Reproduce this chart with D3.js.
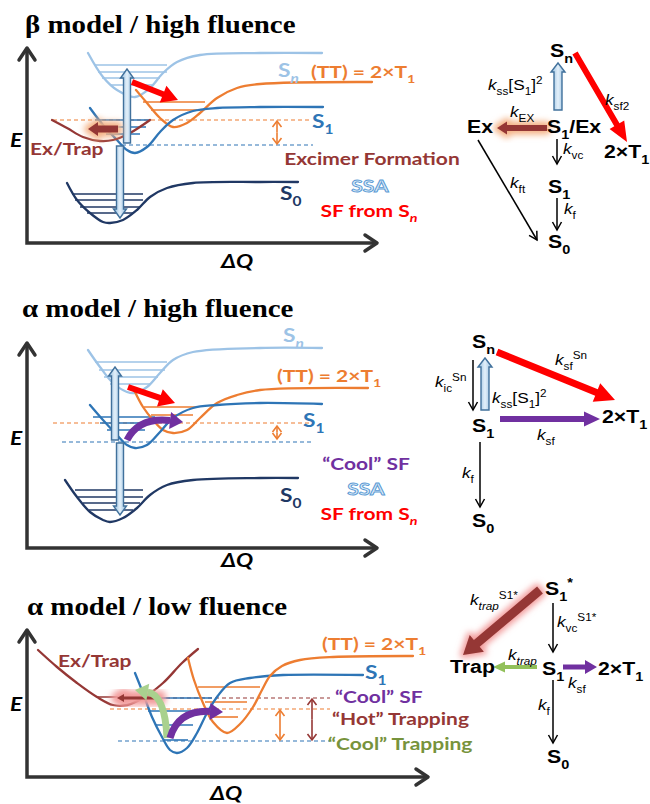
<!DOCTYPE html>
<html>
<head>
<meta charset="utf-8">
<script src="https://cdn.jsdelivr.net/npm/d3@7"></script>
<style>
  body { margin: 0; background: #fff; }
  svg { display: block; }
</style>
</head>
<body>
<script>
// ---------- data: curves are [ΔQ, E], levels are [E, ΔQ from, ΔQ to] ----------
var titles = ['β model / high fluence', 'α model / high fluence', 'α model / low fluence'];

// β model / high fluence
var bSn = [[61,192],[76,168],[90,155],[108,148],[123,157],[136,172],[150,183],[173,190],[233,192],[295,192]];
var bTT = [[109,155],[120,142],[133,127],[146,118],[160,122],[173,132],[190,147],[210,157],[233,161],[345,163]];
var bS1 = [[63,137],[76,120],[90,105],[100,95],[108,92],[120,98],[133,113],[146,125],[166,134],[190,137],[233,138],[296,138]];
var bS0 = [[40,62],[50,45],[63,32],[76,23],[83,22],[96,25],[110,35],[123,48],[140,57],[166,62],[233,63],[271,63]];
var bEx = [[25,125],[40,117],[56,108],[73,104],[86,105],[103,112],[123,125]];
var bSnLv = [[180,68,140],[173,71,140],[167,75,133],[160,83,126]];
var bTTLv = [[143,116,178],[135,124,170]];
var bS1Lv = [[125,68,123],[118,73,119],[111,79,113]];
var bS0Lv = [[51,45,116],[45,48,116],[38,53,113],[32,60,106]];
var bDash = [[125,26,285,'tt'],[100,95,286,'s1']];
var bGap = [[250,100,125,'tt']];
var bSSA = [[100,102,176],[93,99,27]];        // [ΔQ, E tail, E tip]
var bSF = [[105,163],[151,145]];
var bExArrow = [[91,116],[61,116]];

// α model / high fluence
var aSn = [[61,198],[73,181],[86,165],[100,156],[108,155],[120,161],[133,175],[146,188],[166,196],[233,200],[295,200]];
var aTT = [[108,156],[116,141],[126,128],[136,118],[146,115],[160,118],[173,130],[190,145],[210,153],[233,158],[341,160]];
var aS1 = [[63,143],[76,128],[90,113],[100,103],[108,100],[120,103],[133,116],[146,130],[166,140],[190,143],[233,145],[295,144]];
var aS0 = [[38,68],[50,51],[63,36],[76,28],[83,26],[96,30],[110,40],[123,53],[140,63],[166,68],[233,70],[271,70]];
var aSnLv = [[186,68,140],[178,72,138],[171,77,131],[164,83,123]];
var aTTLv = [[141,117,170],[133,124,166]];
var aS1Lv = [[131,66,128],[125,73,123],[118,80,118]];
var aS0Lv = [[58,48,116],[51,51,116],[45,56,113],[38,62,106]];
var aDash = [[125,26,285,'tt'],[106,35,286,'s1']];
var aGap = [[250,108,123,'tt']];
var aSSA = [[88,108,181],[93,105,33]];
var aSF = [[101,161],[148,145]];
var aCoolSF = [[100,108],[112,131],[156,126]];  // tail, bend, tip

// α model / low fluence
var lEx = [[11,127],[30,110],[50,94],[70,80],[86,72],[100,72],[116,79],[136,94],[155,114],[171,128]];
var lS1 = [[108,104],[116,84],[125,60],[135,40],[143,27],[150,24],[160,29],[170,44],[180,64],[190,80],[203,94],[223,99],[256,102],[336,102]];
var lTT = [[161,119],[167,97],[176,74],[186,55],[200,44],[213,53],[226,70],[235,87],[243,101],[255,111],[273,117],[306,120],[386,121]];
var lExLv = [[80,70,113]];
var lS1Lv = [[79,118,185],[66,121,173],[52,128,166],[37,136,161]];
var lTTLv = [[90,171,233],[75,178,220],[60,185,211]];
var lDash = [[79,118,303,'ex'],[68,83,303,'tt'],[36,91,303,'s1']];
var lGap = [[253,36,68,'tt'],[285,36,79,'ex']];
var lCoolTrap = [[140,39],[138,82],[108,87]];
var lCoolSF = [[143,39],[151,67],[196,65]];
var lTrapArrow = [[133,79],[90,79]];

// ---------- styles ----------
var C = {sn: '#9dc3e6', s1: '#2e75b6', s0: '#203864', tt: '#ed7d31', ex: '#953735',
         red: '#ff0000', purple: '#7030a0', green: '#a9d18e', greenText: '#77933c', axis: '#333333'};
var LATO = "Lato, 'Open Sans', sans-serif";
var ARIAL = "'Liberation Sans', Arial, sans-serif";
var SERIF = "'Liberation Serif', 'Times New Roman', serif";
var SX = 1.2; // the original picture is stretched sideways, so is the text

var svg = d3.select('body').append('svg').attr('width', 650).attr('height', 804);
var defs = svg.append('defs');
defs.append('filter').attr('id', 'blur').attr('x', '-60%').attr('y', '-60%').attr('width', '220%').attr('height', '220%')
  .append('feGaussianBlur').attr('stdDeviation', 3);
var grad = defs.append('linearGradient').attr('id', 'ssaFill').attr('x1', 0).attr('y1', 0).attr('x2', 1).attr('y2', 0);
grad.append('stop').attr('offset', '0%').attr('stop-color', '#8fb9dc');
grad.append('stop').attr('offset', '50%').attr('stop-color', '#e3f0fa');
grad.append('stop').attr('offset', '100%').attr('stop-color', '#8fb9dc');

// text with sub / superscripts; parts are strings or {t, sub, sup, it}
function rich(g, px, py, parts, o) {
  var size = o.size;
  var t = g.append('text')
    .attr('transform', 'translate(' + px + ',' + py + ') scale(' + (o.sx || SX) + ',1)')
    .attr('font-family', o.font || LATO)
    .attr('font-size', size)
    .attr('font-weight', o.weight || 'bold')
    .attr('font-style', o.style || 'normal')
    .attr('fill', o.color || '#000')
    .attr('text-anchor', o.anchor || 'start');
  if (o.stroke) t.attr('stroke', o.stroke).attr('stroke-width', o.strokeWidth || 1);
  var cur = 0;
  parts.forEach(function(p) {
    if (typeof p === 'string') p = {t: p};
    var off = p.sub ? size * 0.3 : (p.sup ? -size * 0.42 : 0);
    var ts = t.append('tspan').attr('dy', off - cur).text(p.t);
    cur = off;
    if (p.sub || p.sup) ts.attr('font-size', size * 0.68);
    if (p.it) ts.attr('font-style', 'italic');
  });
  return t;
}

function unit(x1, y1, x2, y2) {
  var dx = x2 - x1, dy = y2 - y1, l = Math.sqrt(dx * dx + dy * dy);
  return [dx / l, dy / l];
}

// block arrow outline from tail to tip
function blockPath(x1, y1, x2, y2, sw, hw, hl) {
  var u = unit(x1, y1, x2, y2), n = [-u[1], u[0]];
  var bx = x2 - u[0] * hl, by = y2 - u[1] * hl;
  var p = [
    [x1 + n[0] * sw / 2, y1 + n[1] * sw / 2],
    [bx + n[0] * sw / 2, by + n[1] * sw / 2],
    [bx + n[0] * hw / 2, by + n[1] * hw / 2],
    [x2, y2],
    [bx - n[0] * hw / 2, by - n[1] * hw / 2],
    [bx - n[0] * sw / 2, by - n[1] * sw / 2],
    [x1 - n[0] * sw / 2, y1 - n[1] * sw / 2]
  ];
  return 'M' + p.map(function(d) { return d[0].toFixed(1) + ',' + d[1].toFixed(1); }).join('L') + 'Z';
}

function blockArrow(g, x1, y1, x2, y2, o) {
  var d = blockPath(x1, y1, x2, y2, o.sw, o.hw, o.hl);
  if (o.glow) {
    g.append('path').attr('d', d).attr('fill', o.glow).attr('stroke', o.glow)
      .attr('stroke-width', o.glowW || 7).attr('stroke-linejoin', 'round').attr('filter', 'url(#blur)');
  }
  g.append('path').attr('d', d).attr('fill', o.fill)
    .attr('stroke', o.stroke || 'none').attr('stroke-width', o.strokeW || 1.3).attr('stroke-linejoin', 'miter');
}

// thin arrow with open head
function lineArrow(g, x1, y1, x2, y2, color, w, hl, hw) {
  var u = unit(x1, y1, x2, y2), n = [-u[1], u[0]];
  var bx = x2 - u[0] * hl, by = y2 - u[1] * hl;
  g.append('line').attr('x1', x1).attr('y1', y1).attr('x2', x2).attr('y2', y2)
    .attr('stroke', color).attr('stroke-width', w);
  g.append('path')
    .attr('d', 'M' + (bx + n[0] * hw / 2) + ',' + (by + n[1] * hw / 2) + 'L' + x2 + ',' + y2 + 'L' + (bx - n[0] * hw / 2) + ',' + (by - n[1] * hw / 2))
    .attr('fill', 'none').attr('stroke', color).attr('stroke-width', w).attr('stroke-linejoin', 'miter');
}

// thick bent arrow: tail, bend, tip
function bentArrow(g, s, pts, color) {
  var p0 = [s.x(pts[0][0]), s.y(pts[0][1])], c = [s.x(pts[1][0]), s.y(pts[1][1])], t = [s.x(pts[2][0]), s.y(pts[2][1])];
  var u = unit(c[0], c[1], t[0], t[1]), n = [-u[1], u[0]], hl = 13, hw = 17;
  var b = [t[0] - u[0] * hl, t[1] - u[1] * hl];
  g.append('path').attr('d', 'M' + p0 + 'Q' + c + ' ' + b).attr('fill', 'none')
    .attr('stroke', color).attr('stroke-width', 7);
  g.append('path').attr('d', 'M' + [b[0] + n[0] * hw / 2, b[1] + n[1] * hw / 2] + 'L' + t + 'L' + [b[0] - n[0] * hw / 2, b[1] - n[1] * hw / 2] + 'Z')
    .attr('fill', color);
}

var lineGen = function(s) {
  return d3.line().x(function(d) { return s.x(d[0]); }).y(function(d) { return s.y(d[1]); })
    .curve(d3.curveCatmullRom.alpha(0.5));
};

function curve(g, s, pts, color) {
  g.append('path').datum(pts).attr('d', lineGen(s)).attr('fill', 'none')
    .attr('stroke', color).attr('stroke-width', 2.3).attr('stroke-linecap', 'round');
}

function levels(g, s, lv, color) {
  g.selectAll(null).data(lv).enter().append('line')
    .attr('x1', function(d) { return s.x(d[1]); }).attr('x2', function(d) { return s.x(d[2]); })
    .attr('y1', function(d) { return s.y(d[0]); }).attr('y2', function(d) { return s.y(d[0]); })
    .attr('stroke', color).attr('stroke-width', 1.6);
}

function dashes(g, s, arr) {
  g.selectAll(null).data(arr).enter().append('line')
    .attr('x1', function(d) { return s.x(d[1]); }).attr('x2', function(d) { return s.x(d[2]); })
    .attr('y1', function(d) { return s.y(d[0]); }).attr('y2', function(d) { return s.y(d[0]); })
    .attr('stroke', function(d) { return C[d[3]]; }).attr('stroke-width', 1.1).attr('stroke-dasharray', '4,3');
}

function gaps(g, s, arr) {
  arr.forEach(function(d) {
    var x = s.x(d[0]), y1 = s.y(d[1]), y2 = s.y(d[2]);
    lineArrow(g, x, (y1 + y2) / 2, x, y2 + 1, C[d[3]], 1.6, 6, 9);
    lineArrow(g, x, (y1 + y2) / 2, x, y1 - 1, C[d[3]], 1.6, 6, 9);
  });
}

function ssa(g, s, arr) {
  arr.forEach(function(d) {
    blockArrow(g, s.x(d[0]), s.y(d[1]), s.x(d[0]), s.y(d[2]),
      {sw: 7, hw: 13, hl: 9, fill: 'url(#ssaFill)', stroke: '#41719c', strokeW: 1.4});
  });
}

function axes(g, p) {
  g.append('path').attr('d', 'M' + p.x0 + ',' + p.top + 'V' + p.axisY + 'H' + p.right)
    .attr('fill', 'none').attr('stroke', C.axis).attr('stroke-width', 3.5);
  g.append('path').attr('d', 'M' + (p.x0 - 8) + ',' + (p.top + 12) + 'L' + p.x0 + ',' + p.top + 'L' + (p.x0 + 8) + ',' + (p.top + 12))
    .attr('fill', 'none').attr('stroke', C.axis).attr('stroke-width', 3.5).attr('stroke-linecap', 'round').attr('stroke-linejoin', 'round');
  g.append('path').attr('d', 'M' + (p.right - 12) + ',' + (p.axisY - 8) + 'L' + p.right + ',' + p.axisY + 'L' + (p.right - 12) + ',' + (p.axisY + 8))
    .attr('fill', 'none').attr('stroke', C.axis).attr('stroke-width', 3.5).attr('stroke-linecap', 'round').attr('stroke-linejoin', 'round');
  rich(g, 10, p.eY, ['E'], {size: 19, style: 'italic', color: '#000'});
  rich(g, p.dqX, p.dqY, ['ΔQ'], {size: 19, style: 'italic', color: '#000', anchor: 'middle'});
  rich(g, p.tx, p.ty, [p.title], {size: 24.5, sx: 1.18, font: SERIF, color: '#000'});
}

// ---------- panels ----------
var panels = [
  {title: titles[0], tx: 25, ty: 33, x0: 27, base: 245, axisY: 243, top: 48, right: 377, eY: 147, dqX: 237, dqY: 268},
  {title: titles[1], tx: 22, ty: 317, x0: 27, base: 548, axisY: 548, top: 343, right: 377, eY: 445, dqX: 237, dqY: 567},
  {title: titles[2], tx: 27, ty: 615, x0: 27, base: 777, axisY: 777, top: 630, right: 428, eY: 711, dqX: 226, dqY: 800}
];

function scales(p) {
  return {
    x: d3.scaleLinear().domain([0, 350]).range([p.x0, p.x0 + 350]),
    y: d3.scaleLinear().domain([0, 200]).range([p.base, p.base - 200])
  };
}

function label(g, s, q, e, parts, color, o) {
  o = o || {};
  rich(g, s.x(q), s.y(e), parts, {size: o.size || 17.5, color: color, anchor: o.anchor, stroke: o.stroke, strokeWidth: o.strokeWidth});
}

var ssaText = {anchor: 'middle', stroke: '#5b9bd5', strokeWidth: 0.9};
var stateSize = {size: 19};

// β model / high fluence
(function() {
  var p = panels[0], s = scales(p), g = svg.append('g');
  axes(g, p);
  dashes(g, s, bDash);
  levels(g, s, bSnLv, C.sn);
  levels(g, s, bTTLv, C.tt);
  levels(g, s, bS1Lv, C.s1);
  levels(g, s, bS0Lv, C.s0);
  curve(g, s, bSn, C.sn);
  curve(g, s, bTT, C.tt);
  curve(g, s, bS1, C.s1);
  curve(g, s, bS0, C.s0);
  curve(g, s, bEx, C.ex);
  gaps(g, s, bGap);
  ssa(g, s, bSSA);
  blockArrow(g, s.x(bSF[0][0]), s.y(bSF[0][1]), s.x(bSF[1][0]), s.y(bSF[1][1]), {sw: 6, hw: 18, hl: 16, fill: C.red});
  blockArrow(g, s.x(bExArrow[0][0]), s.y(bExArrow[0][1]), s.x(bExArrow[1][0]), s.y(bExArrow[1][1]),
    {sw: 7, hw: 14, hl: 10, fill: C.ex, glow: '#f4b183', glowW: 8});
  label(g, s, 251, 168, ['S', {t: 'n', sub: true, it: true}], C.sn, stateSize);
  label(g, s, 284, 167, ['(TT) = 2×T', {t: '1', sub: true}], C.tt);
  label(g, s, 285, 117, ['S', {t: '1', sub: true}], C.s1, stateSize);
  label(g, s, 253, 45, ['S', {t: '0', sub: true}], C.s0, stateSize);
  label(g, s, 3, 90, ['Ex/Trap'], C.ex);
  label(g, s, 345, 80, ['Excimer Formation'], C.ex, {anchor: 'middle'});
  label(g, s, 343, 53, ['SSA'], '#deebf7', ssaText);
  label(g, s, 342, 28, ['SF from S', {t: 'n', sub: true, it: true}], C.red, {anchor: 'middle'});
})();

// α model / high fluence
(function() {
  var p = panels[1], s = scales(p), g = svg.append('g');
  axes(g, p);
  dashes(g, s, aDash);
  levels(g, s, aSnLv, C.sn);
  levels(g, s, aTTLv, C.tt);
  levels(g, s, aS1Lv, C.s1);
  levels(g, s, aS0Lv, C.s0);
  curve(g, s, aSn, C.sn);
  curve(g, s, aTT, C.tt);
  curve(g, s, aS1, C.s1);
  curve(g, s, aS0, C.s0);
  gaps(g, s, aGap);
  ssa(g, s, aSSA);
  blockArrow(g, s.x(aSF[0][0]), s.y(aSF[0][1]), s.x(aSF[1][0]), s.y(aSF[1][1]), {sw: 6, hw: 18, hl: 16, fill: C.red});
  bentArrow(g, s, aCoolSF, C.purple);
  label(g, s, 256, 206, ['S', {t: 'n', sub: true, it: true}], C.sn, stateSize);
  label(g, s, 250, 166, ['(TT) = 2×T', {t: '1', sub: true}], C.tt);
  label(g, s, 276, 121, ['S', {t: '1', sub: true}], C.s1, stateSize);
  label(g, s, 253, 46, ['S', {t: '0', sub: true}], C.s0, stateSize);
  label(g, s, 339, 78, ['“Cool” SF'], C.purple, {anchor: 'middle'});
  label(g, s, 339, 53, ['SSA'], '#deebf7', ssaText);
  label(g, s, 342, 28, ['SF from S', {t: 'n', sub: true, it: true}], C.red, {anchor: 'middle'});
})();

// α model / low fluence
(function() {
  var p = panels[2], s = scales(p), g = svg.append('g');
  axes(g, p);
  dashes(g, s, lDash);
  levels(g, s, lExLv, C.ex);
  levels(g, s, lS1Lv, C.s1);
  levels(g, s, lTTLv, C.tt);
  curve(g, s, lEx, C.ex);
  curve(g, s, lS1, C.s1);
  curve(g, s, lTT, C.tt);
  gaps(g, s, lGap);
  blockArrow(g, s.x(lTrapArrow[0][0]), s.y(lTrapArrow[0][1]), s.x(lTrapArrow[1][0]), s.y(lTrapArrow[1][1]),
    {sw: 3, hw: 8, hl: 7, fill: C.ex, glow: '#f29b9b', glowW: 12});
  bentArrow(g, s, lCoolTrap, C.green);
  bentArrow(g, s, lCoolSF, C.purple);
  label(g, s, 295, 127, ['(TT) = 2×T', {t: '1', sub: true}], C.tt);
  label(g, s, 338, 98, ['S', {t: '1', sub: true}], C.s1, stateSize);
  label(g, s, 31, 110, ['Ex/Trap'], C.ex);
  label(g, s, 308, 74, ['“Cool” SF'], C.purple);
  label(g, s, 305, 52, ['“Hot” Trapping'], C.ex);
  label(g, s, 301, 27, ['“Cool” Trapping'], C.greenText);
})();

// ---------- kinetic schemes (local layout units) ----------
function schemeScales(ox, oy) {
  return {x: d3.scaleLinear().domain([0, 220]).range([ox, ox + 220]),
          y: d3.scaleLinear().domain([0, 240]).range([oy, oy + 240])};
}
function node(g, s, x, y, parts) {
  rich(g, s.x(x), s.y(y), parts, {size: 19, sx: 1.12, font: ARIAL, color: '#000'});
}
function rate(g, s, x, y, parts) {
  rich(g, s.x(x), s.y(y), parts, {size: 15, sx: 1.15, font: ARIAL, weight: 'normal', color: '#000'});
}
function thin(g, s, a) {
  lineArrow(g, s.x(a[0]), s.y(a[1]), s.x(a[2]), s.y(a[3]), '#000', 1.5, 8, 9);
}
function block(g, s, a, o) {
  blockArrow(g, s.x(a[0]), s.y(a[1]), s.x(a[2]), s.y(a[3]), o);
}
var kIt = {t: 'k', it: true};
var ssaBlock = {sw: 8, hw: 14, hl: 9, fill: 'url(#ssaFill)', stroke: '#41719c', strokeW: 1.4};

(function() {
  var s = schemeScales(430, 30), g = svg.append('g');
  block(g, s, [145, 23, 197, 112], {sw: 6, hw: 17, hl: 20, fill: C.red});
  block(g, s, [128, 80, 128, 33], ssaBlock);
  block(g, s, [117, 98, 67, 98], {sw: 6, hw: 13, hl: 10, fill: C.ex, glow: '#f4b183', glowW: 7});
  thin(g, s, [127, 109, 127, 134]);
  thin(g, s, [127, 168, 127, 200]);
  thin(g, s, [48, 110, 107, 210]);
  node(g, s, 120, 27, ['S', {t: 'n', sub: true}]);
  node(g, s, 117, 103, ['S', {t: '1', sub: true}, '/Ex']);
  node(g, s, 37, 103, ['Ex']);
  node(g, s, 118, 163, ['S', {t: '1', sub: true}]);
  node(g, s, 118, 218, ['S', {t: '0', sub: true}]);
  node(g, s, 174, 128, ['2×T', {t: '1', sub: true}]);
  rate(g, s, 58, 60, [kIt, {t: 'ss', sub: true}, '[S', {t: '1', sub: true}, ']', {t: '2', sup: true}]);
  rate(g, s, 175, 75, [kIt, {t: 'sf2', sub: true}]);
  rate(g, s, 80, 87, [kIt, {t: 'EX', sub: true}]);
  rate(g, s, 133, 124, [kIt, {t: 'vc', sub: true}]);
  rate(g, s, 80, 158, [kIt, {t: 'ft', sub: true}]);
  rate(g, s, 134, 184, [kIt, {t: 'f', sub: true}]);
})();

(function() {
  var s = schemeScales(430, 330), g = svg.append('g');
  block(g, s, [67, 22, 185, 70], {sw: 7, hw: 20, hl: 20, fill: C.red});
  block(g, s, [55, 80, 55, 28], ssaBlock);
  block(g, s, [70, 89, 170, 89], {sw: 6, hw: 15, hl: 16, fill: C.purple});
  thin(g, s, [43, 30, 43, 80]);
  thin(g, s, [50, 112, 50, 177]);
  node(g, s, 42, 18, ['S', {t: 'n', sub: true}]);
  node(g, s, 42, 102, ['S', {t: '1', sub: true}]);
  node(g, s, 42, 197, ['S', {t: '0', sub: true}]);
  node(g, s, 172, 93, ['2×T', {t: '1', sub: true}]);
  rate(g, s, 125, 35, [kIt, {t: 'sf', sub: true}, {t: 'Sn', sup: true}]);
  rate(g, s, 5, 57, [kIt, {t: 'ic', sub: true}, {t: 'Sn', sup: true}]);
  rate(g, s, 62, 73, [kIt, {t: 'ss', sub: true}, '[S', {t: '1', sub: true}, ']', {t: '2', sup: true}]);
  rate(g, s, 107, 110, [kIt, {t: 'sf', sub: true}]);
  rate(g, s, 32, 148, [kIt, {t: 'f', sub: true}]);
})();

(function() {
  var s = schemeScales(430, 570), g = svg.append('g');
  block(g, s, [110, 20, 33, 85], {sw: 9, hw: 22, hl: 18, fill: C.ex, glow: '#f29b9b', glowW: 6});
  block(g, s, [107, 97, 63, 97], {sw: 4, hw: 11, hl: 12, fill: '#92c05a'});
  block(g, s, [133, 97, 167, 97], {sw: 5, hw: 14, hl: 12, fill: C.purple});
  thin(g, s, [123, 33, 123, 82]);
  thin(g, s, [123, 110, 123, 173]);
  node(g, s, 115, 25, ['S', {t: '1', sub: true}, {t: '*', sup: true}]);
  node(g, s, 20, 103, ['Trap']);
  node(g, s, 112, 105, ['S', {t: '1', sub: true}]);
  node(g, s, 168, 105, ['2×T', {t: '1', sub: true}]);
  node(g, s, 117, 193, ['S', {t: '0', sub: true}]);
  rate(g, s, 40, 35, [kIt, {t: 'trap', sub: true, it: true}, {t: 'S1*', sup: true}]);
  rate(g, s, 127, 57, [kIt, {t: 'vc', sub: true}, {t: 'S1*', sup: true}]);
  rate(g, s, 78, 90, [kIt, {t: 'trap', sub: true, it: true}]);
  rate(g, s, 138, 118, [kIt, {t: 'sf', sub: true}]);
  rate(g, s, 108, 140, [kIt, {t: 'f', sub: true}]);
})();
</script>
</body>
</html>
